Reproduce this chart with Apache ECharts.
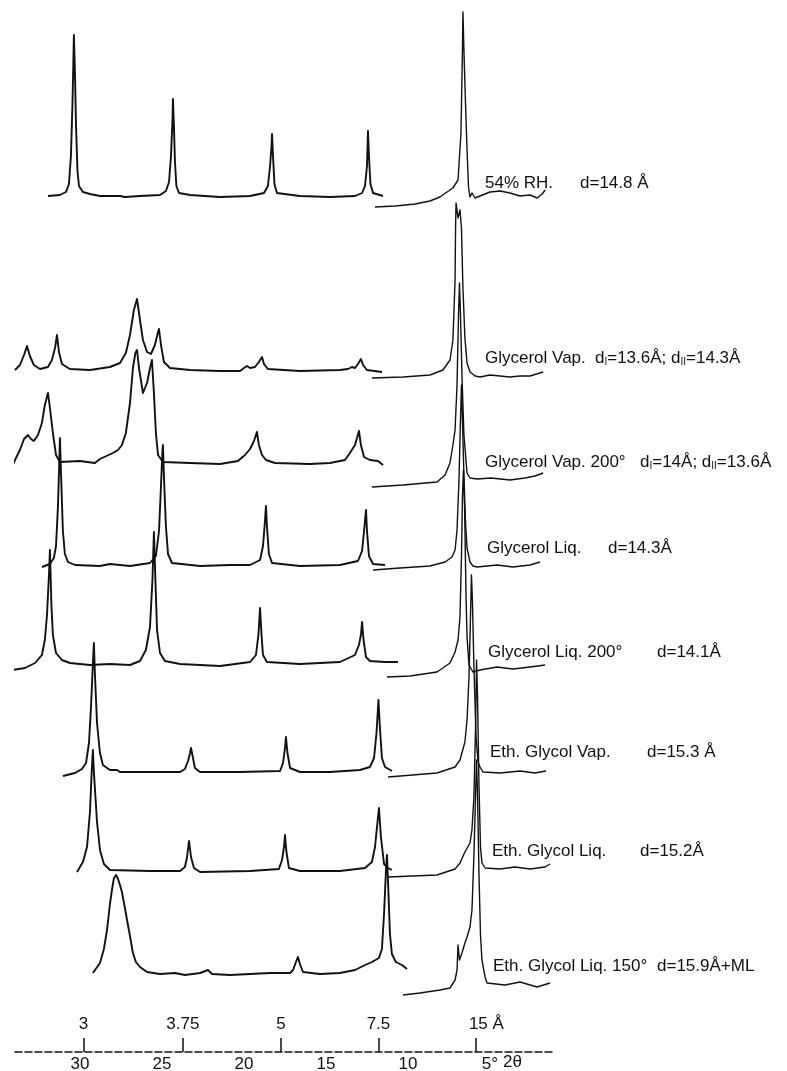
<!DOCTYPE html>
<html><head><meta charset="utf-8">
<script src="https://cdn.jsdelivr.net/npm/echarts@6/dist/echarts.min.js"></script>
<style>html,body{margin:0;padding:0;background:#fff}#c{width:787px;height:1071px}</style>
</head><body><div id="c"></div>
<script>
// ---------- DATA: [2theta (deg), relative intensity] ----------
const rh54L = [[31.95,0],[31.22,1],[30.85,4],[30.67,12],[30.55,40],[30.46,90],[30.40,135],[30.37,161],[30.30,120],[30.24,70],[30.15,25],[30.06,10],[29.82,4],[29.39,2],[28.78,0],[27.56,0],[27.26,-1],[26.34,0],[25.12,1],[24.76,5],[24.57,14],[24.45,40],[24.36,75],[24.33,97],[24.27,70],[24.21,35],[24.12,10],[23.96,3],[23.29,1],[21.46,-1],[19.63,0],[18.78,3],[18.54,10],[18.41,30],[18.32,50],[18.29,62],[18.23,40],[18.14,12],[17.99,3],[16.59,0],[14.76,-1],[13.23,0],[12.80,3],[12.62,10],[12.50,30],[12.44,65],[12.38,40],[12.29,12],[12.13,3],[11.52,0]];
const rh54R = [[12.01,-7],[10.79,-6],[9.57,-4],[8.66,-1],[8.05,3],[7.62,8],[7.26,12],[6.95,20],[6.77,67],[6.68,150],[6.65,188],[6.59,150],[6.50,100],[6.40,50],[6.31,13],[6.22,3],[6.10,7],[5.91,2],[5.61,4],[5.00,8],[4.39,9],[3.78,7],[3.17,4],[2.56,5],[2.13,2],[1.82,6],[1.64,10]];

const glyVapL = [[33.96,0],[33.66,5],[33.41,15],[33.23,24],[33.05,14],[32.81,5],[32.44,1],[31.95,3],[31.71,10],[31.52,22],[31.40,35],[31.28,18],[31.10,6],[30.61,1],[29.39,0],[28.17,3],[27.56,7],[27.20,17],[26.95,35],[26.71,60],[26.52,71],[26.34,50],[26.16,30],[25.91,18],[25.67,16],[25.43,25],[25.24,38],[25.18,41],[25.06,25],[24.88,8],[24.51,2],[23.29,0],[21.46,-1],[20.24,-1],[20.00,2],[19.82,4],[19.63,2],[19.33,3],[19.09,8],[18.90,13],[18.78,6],[18.54,1],[16.59,-1],[14.15,0],[13.66,1],[13.42,3],[13.23,2],[13.05,6],[12.87,11],[12.74,5],[12.50,0],[11.58,-2]];
const glyVapR = [[12.20,0],[10.30,1],[8.66,3],[7.87,8],[7.44,18],[7.26,38],[7.13,98],[7.10,150],[7.07,175],[6.95,160],[6.83,168],[6.74,150],[6.65,90],[6.53,40],[6.40,15],[6.22,6],[5.91,2],[5.61,1],[5.00,3],[4.39,2],[3.78,1],[3.17,2],[2.56,2],[1.76,6]];

const glyVap200L = [[34.21,-6],[33.90,5],[33.66,13],[33.41,24],[33.17,28],[32.99,24],[32.81,22],[32.56,28],[32.32,40],[32.14,58],[31.95,70],[31.83,55],[31.65,30],[31.46,8],[31.22,1],[30.00,2],[29.09,0],[28.78,4],[27.99,10],[27.68,13],[27.44,18],[27.20,30],[26.95,60],[26.77,95],[26.62,110],[26.52,113],[26.40,95],[26.16,70],[25.91,80],[25.73,95],[25.61,103],[25.49,70],[25.37,30],[25.24,8],[24.94,1],[23.29,0],[21.46,-1],[20.37,2],[19.94,8],[19.63,14],[19.39,22],[19.21,31],[19.09,18],[18.90,8],[18.66,3],[18.11,0],[15.98,-1],[14.76,0],[13.84,3],[13.54,10],[13.23,18],[12.99,32],[12.87,18],[12.68,6],[12.32,3],[11.83,2],[11.52,-2]];
const glyVap200R = [[12.20,-2],[10.30,0],[8.23,3],[7.74,10],[7.44,22],[7.26,40],[7.13,55],[7.01,100],[6.92,170],[6.86,202],[6.80,170],[6.71,110],[6.59,50],[6.40,12],[6.22,7],[5.79,6],[4.94,7],[3.78,5],[2.87,7],[2.26,9],[1.76,12]];

const glyLiqL = [[32.32,-1],[31.83,2],[31.59,8],[31.46,20],[31.34,60],[31.25,110],[31.22,128],[31.16,95],[31.04,35],[30.92,12],[30.73,4],[30.30,1],[28.78,0],[28.17,2],[26.95,0],[25.73,3],[25.37,10],[25.18,35],[25.06,80],[24.97,115],[24.94,121],[24.88,90],[24.76,40],[24.63,12],[24.39,3],[22.68,0],[20.85,1],[19.63,1],[19.02,6],[18.84,20],[18.72,45],[18.66,60],[18.60,40],[18.48,12],[18.29,3],[16.59,0],[14.15,1],[13.05,5],[12.80,15],[12.68,35],[12.56,56],[12.50,35],[12.38,10],[12.13,2],[11.40,1]];
const glyLiqR = [[12.13,0],[10.49,2],[8.66,4],[7.74,8],[7.32,13],[7.13,20],[7.01,40],[6.89,90],[6.80,150],[6.74,185],[6.68,150],[6.59,95],[6.50,50],[6.40,22],[6.22,8],[6.04,4],[5.79,3],[4.57,5],[3.60,3],[2.56,5],[1.95,8]];

const glyLiq200L = [[34.09,-5],[33.35,-3],[32.74,2],[32.32,10],[32.14,25],[32.01,50],[31.89,90],[31.83,115],[31.74,60],[31.65,30],[31.46,12],[31.10,5],[30.61,2],[29.39,0],[28.17,1],[26.95,0],[26.34,4],[25.98,15],[25.73,38],[25.58,85],[25.49,133],[25.39,80],[25.30,35],[25.12,12],[24.82,4],[23.90,1],[21.46,-1],[19.63,3],[19.27,10],[19.12,30],[19.02,57],[18.93,30],[18.84,10],[18.60,3],[16.59,1],[14.15,3],[13.23,10],[12.99,20],[12.87,30],[12.80,43],[12.71,25],[12.56,8],[12.32,4],[11.40,3],[10.61,3]];
const glyLiq200R = [[11.28,0],[9.88,1],[8.23,5],[7.44,14],[7.13,25],[6.95,37],[6.83,60],[6.74,120],[6.68,180],[6.62,207],[6.55,170],[6.46,80],[6.40,40],[6.28,12],[6.04,5],[5.61,7],[4.57,10],[3.60,8],[2.56,10],[1.64,12]];

const egVapL = [[31.04,-3],[30.30,0],[29.88,4],[29.63,10],[29.45,30],[29.33,65],[29.21,110],[29.15,130],[29.09,100],[28.96,50],[28.78,20],[28.60,8],[28.17,3],[27.74,3],[27.56,1],[25.73,1],[23.90,1],[23.60,4],[23.41,12],[23.29,20],[23.23,25],[23.11,15],[22.99,5],[22.68,1],[20.24,1],[17.80,2],[17.62,10],[17.50,25],[17.44,36],[17.35,20],[17.19,5],[16.59,1],[14.76,1],[12.93,3],[12.32,6],[12.07,15],[11.92,40],[11.80,73],[11.71,45],[11.59,15],[11.40,6],[10.98,2]];
const egVapR = [[11.22,0],[8.23,4],[7.13,10],[6.83,17],[6.53,35],[6.40,57],[6.28,100],[6.19,160],[6.13,202],[6.07,175],[5.98,110],[5.85,40],[5.73,15],[5.61,10],[5.43,5],[4.39,4],[3.17,6],[2.26,4],[1.58,6]];

const egLiqL = [[30.18,0],[29.82,10],[29.57,25],[29.39,60],[29.27,105],[29.21,122],[29.15,100],[28.96,50],[28.78,22],[28.54,8],[28.17,2],[25.73,1],[23.90,1],[23.60,5],[23.48,14],[23.35,31],[23.23,15],[23.05,4],[22.68,0],[19.63,1],[17.87,3],[17.68,12],[17.56,25],[17.50,37],[17.41,20],[17.26,4],[16.59,1],[14.15,1],[12.62,4],[12.20,10],[12.01,25],[11.89,45],[11.77,64],[11.65,35],[11.46,8],[11.22,4],[10.98,2]];
const egLiqR = [[11.22,0],[8.23,2],[7.13,8],[6.83,14],[6.53,25],[6.22,34],[6.10,47],[5.98,80],[5.88,150],[5.82,217],[5.76,180],[5.67,90],[5.58,30],[5.49,14],[5.30,9],[4.39,8],[3.48,10],[2.56,8],[1.64,10],[1.34,13]];

const egLiq150L = [[29.21,1],[28.78,11],[28.54,25],[28.35,44],[28.17,70],[28.05,84],[27.93,96],[27.80,99],[27.68,95],[27.56,89],[27.44,82],[27.26,66],[27.13,54],[26.95,38],[26.77,21],[26.59,12],[26.34,7],[25.91,2],[25.12,0],[24.21,1],[23.60,-1],[22.68,1],[22.19,4],[21.95,0],[20.85,-1],[19.63,0],[18.41,1],[17.19,1],[17.01,4],[16.83,12],[16.71,17],[16.59,10],[16.40,2],[15.37,0],[14.15,1],[13.23,4],[12.62,9],[12.20,12],[11.77,16],[11.59,25],[11.46,60],[11.34,105],[11.28,119],[11.19,80],[11.10,40],[10.98,20],[10.74,12],[10.37,9],[10.06,5]];
const egLiq150R = [[10.30,0],[9.27,2],[8.05,5],[7.44,7],[7.13,15],[7.01,25],[6.95,50],[6.86,35],[6.71,42],[6.53,52],[6.40,58],[6.22,68],[6.10,85],[5.98,140],[5.88,200],[5.82,235],[5.76,200],[5.67,120],[5.58,60],[5.49,35],[5.30,18],[5.18,12],[4.09,10],[3.17,13],[2.13,8],[1.34,12]];

const traceNames = ['54% RH.','Glycerol Vap.','Glycerol Vap. 200°','Glycerol Liq.','Glycerol Liq. 200°','Eth. Glycol Vap.','Eth. Glycol Liq.','Eth. Glycol Liq. 150°'];
const traceD = ['d=14.8 Å','d{s|I}=13.6Å; d{s|II}=14.3Å','d{s|I}=14Å; d{s|II}=13.6Å','d=14.3Å','d=14.1Å','d=15.3 Å','d=15.2Å','d=15.9Å+ML'];
const leftSegs  = [rh54L, glyVapL, glyVap200L, glyLiqL, glyLiq200L, egVapL, egLiqL, egLiq150L];
const rightSegs = [rh54R, glyVapR, glyVap200R, glyLiqR, glyLiq200R, egVapR, egLiqR, egLiq150R];

const twoThetaTicks = [30, 25, 20, 15, 10, 5];
const dTicks = [3, 3.75, 5, 7.5, 15];
const dTickLabels = ['3', '3.75', '5', '7.5', '15 Å'];

// ---------- LAYOUT (vertical stacking offsets, label positions) ----------
const offsetL = [856, 682, 589, 486, 387, 279, 180, 78];
const offsetR = [852, 674, 567, 482, 375, 275, 175, 57];
const labelPos = [ // [nameX, dX, y]
  [485,580,183],[485,595,358],[485,640,462],[487,608,548],
  [488,657,652],[490,647,752],[492,640,851],[493,657,966]];

const LAMBDA = 1.5418;
const dTo2T = d => 2 * Math.asin(LAMBDA / (2 * d)) * 180 / Math.PI;
const dPos = dTicks.map(dTo2T);

const chart = echarts.init(document.getElementById('c'), null, {renderer: 'canvas'});
const series = [];
leftSegs.forEach((seg, i) => {
  series.push({type:'line', data: seg.map(p => [p[0], p[1] + offsetL[i]]), showSymbol:false, symbol:'none',
    lineStyle:{color:'#111', width:1.9, join:'round'}, silent:true, animation:false});
});
rightSegs.forEach((seg, i) => {
  series.push({type:'line', data: seg.map(p => [p[0], p[1] + offsetR[i]]), showSymbol:false, symbol:'none',
    lineStyle:{color:'#111', width:1.4, join:'round'}, silent:true, animation:false});
});

const FONT = '17px "Liberation Sans", Arial, sans-serif';
const graphics = [];
labelPos.forEach((lp, i) => {
  graphics.push({type:'text', x: lp[0], y: lp[2],
    style:{text: traceNames[i], font: FONT, fill:'#111', textVerticalAlign:'middle', textAlign:'left'}});
  graphics.push({type:'text', x: lp[1], y: lp[2],
    style:{text: traceD[i], font: FONT, fill:'#111', textVerticalAlign:'middle', textAlign:'left',
      rich:{s:{font:'10px "Liberation Sans", Arial, sans-serif', fill:'#111', verticalAlign:'bottom', padding:[8,0,0,0]}}}});
});
graphics.push({type:'text', x: 503, y: 1062, style:{text:'2θ', font: '17px "Liberation Sans", Arial, sans-serif', fill:'#111', textVerticalAlign:'middle'}});

chart.setOption({
  animation:false,
  backgroundColor:'#fff',
  grid:{left:15, right:235, top:0, bottom:19, outerBoundsMode:'none', containLabel:false},
  xAxis:[
    {type:'value', min:1.22, max:33.96, inverse:true, position:'bottom',
     axisLine:{show:true, lineStyle:{color:'#111', width:1.5, type:[7,3]}},
     axisTick:{show:false}, splitLine:{show:false},
     axisLabel:{show:true, customValues: twoThetaTicks, margin:4, color:'#111',
       fontSize:17, fontFamily:'Liberation Sans',
       formatter: v => v === 5 ? '5°' : String(v)}},
    {type:'value', min:1.22, max:33.96, inverse:true, position:'bottom', offset:0,
     axisLine:{show:false},
     axisTick:{show:true, inside:true, length:14, customValues: dPos, lineStyle:{color:'#111', width:1.5}},
     splitLine:{show:false},
     axisLabel:{show:true, inside:true, customValues: dPos, margin:19, color:'#111', fontSize:17,
       fontFamily:'Liberation Sans',
       rich:{r:{fontSize:17, fontFamily:'Liberation Sans', color:'#111', padding:[0,0,0,22]}},
       formatter: v => { let k = 0, b = 1e9; dPos.forEach((p, j) => { if (Math.abs(p - v) < b) { b = Math.abs(p - v); k = j; } });
         return k === dTickLabels.length - 1 ? '{r|' + dTickLabels[k] + '}' : dTickLabels[k]; }}}
  ],
  yAxis:{type:'value', min:0, max:1052, show:false},
  series: series,
  graphic: graphics
});
</script></body></html>
